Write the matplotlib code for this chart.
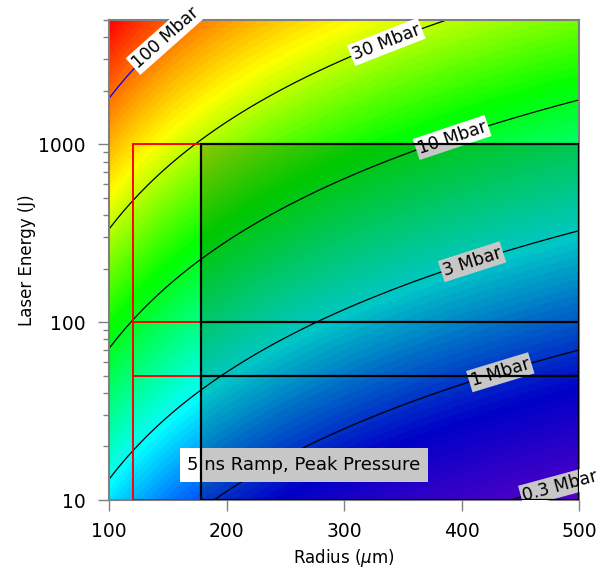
import numpy as np
import matplotlib.pyplot as plt
from matplotlib.colors import LinearSegmentedColormap
from matplotlib.patches import Rectangle

# ramp-drive peak pressure scaling, P = P_REF * (E/E_REF * (R_REF/R)^2)^ALPHA
P_REF = 10.0     # Mbar
E_REF = 71.1     # J, at R_REF
R_REF = 100.0    # um
ALPHA = 0.711

radius_range = [100, 500]
energy_range = [10, 5000]

levels = [0.3, 1, 3, 10, 30, 100]          # Mbar
label_radius = [484, 433, 409, 392, 336, 148]
level_colors = ['k', 'k', 'k', 'k', 'k', 'b']

# design windows
red_radius = [120, 500]
black_radius = [178, 500]
box_energy = [10, 1000]
cut_energy = [50, 100]


def pressure(r, e):
    return P_REF * (e / E_REF * (R_REF / r) ** 2) ** ALPHA


def energy_at(r, p):
    return E_REF * (r / R_REF) ** 2 * (p / P_REF) ** (1 / ALPHA)


r = np.linspace(radius_range[0], radius_range[1], 400)
e = np.logspace(np.log10(energy_range[0]), np.log10(energy_range[1]), 400)
RR, EE = np.meshgrid(r, e)
P = pressure(RR, EE)

# colour table on log10(P): purple -> blue -> cyan -> green -> yellow -> red
stops = [-0.72, -0.16, 0.45, 1.08, 1.62, 2.32]
colors = [(0.55, 0, 1), (0, 0, 1), (0, 1, 1), (0, 1, 0), (1, 1, 0), (1, 0, 0)]
vmin, vmax = stops[0], stops[-1]
cmap = LinearSegmentedColormap.from_list(
    'rainbow6', [((s - vmin) / (vmax - vmin), c) for s, c in zip(stops, colors)], N=100)

fig = plt.figure(figsize=(6.03, 5.75), dpi=100)
ax = fig.add_axes([0.1808, 0.1304, 0.7794, 0.8348])
ax.set_yscale('log')
ax.set_xlim(radius_range)
ax.set_ylim(energy_range)

ax.pcolormesh(RR, EE, np.log10(P), cmap=cmap, vmin=vmin, vmax=vmax,
              shading='gouraud', rasterized=True, zorder=1)
ax.contour(RR, EE, P, levels=levels, colors=level_colors, linewidths=0.9, zorder=2)

# contour labels laid along the curves
for lev, rl in zip(levels, label_radius):
    el = energy_at(rl, lev)
    p1 = ax.transData.transform((rl - 5, energy_at(rl - 5, lev)))
    p2 = ax.transData.transform((rl + 5, energy_at(rl + 5, lev)))
    ang = np.degrees(np.arctan2(p2[1] - p1[1], p2[0] - p1[0]))
    ax.text(rl, el, f'{lev:g} Mbar', rotation=ang, rotation_mode='anchor',
            ha='center', va='center', fontsize=12.5, zorder=3, clip_on=False,
            bbox=dict(facecolor='white', edgecolor='none', pad=1.5))

ax.text(0.415, 0.073, '5 ns Ramp, Peak Pressure', transform=ax.transAxes,
        ha='center', va='center', fontsize=13, zorder=3,
        bbox=dict(facecolor='white', edgecolor='none', pad=5.5))

# red window with cuts
ax.add_patch(Rectangle((red_radius[0], box_energy[0]), red_radius[1] - red_radius[0],
                       box_energy[1] - box_energy[0], fill=False, edgecolor='red',
                       linewidth=1.4, zorder=5))
for ec in cut_energy:
    ax.plot(red_radius, [ec, ec], color='red', linewidth=1.4, zorder=5)

# shaded black window
ax.add_patch(Rectangle((black_radius[0], box_energy[0]), black_radius[1] - black_radius[0],
                       box_energy[1] - box_energy[0], facecolor=(0, 0, 0, 0.22),
                       edgecolor='none', zorder=4))
ax.add_patch(Rectangle((black_radius[0], box_energy[0]), black_radius[1] - black_radius[0],
                       box_energy[1] - box_energy[0], fill=False, edgecolor='black',
                       linewidth=1.6, zorder=6))
for ec in cut_energy:
    ax.plot(black_radius, [ec, ec], color='black', linewidth=1.6, zorder=6)

ax.set_xticks([100, 200, 300, 400, 500])
ax.set_xticklabels(['100', '200', '300', '400', '500'])
ax.set_yticks([10, 100, 1000])
ax.set_yticklabels(['10', '100', '1000'])
ax.tick_params(which='major', length=8, width=1, color='#808080', labelsize=13.5)
ax.tick_params(axis='y', which='major', pad=9)
ax.tick_params(axis='x', which='major', pad=7.5)
ax.tick_params(which='minor', length=4.5, width=1, color='#808080')
ax.tick_params(axis='x', which='minor', bottom=False)
for s in ax.spines.values():
    s.set_color('#808080')
    s.set_linewidth(1.5)

ax.set_xlabel(r'Radius ($\mu$m)', fontsize=12, labelpad=4.5)
ax.set_ylabel('Laser Energy (J)', fontsize=12, labelpad=1.5)

fig.savefig('out.png', dpi=100)
